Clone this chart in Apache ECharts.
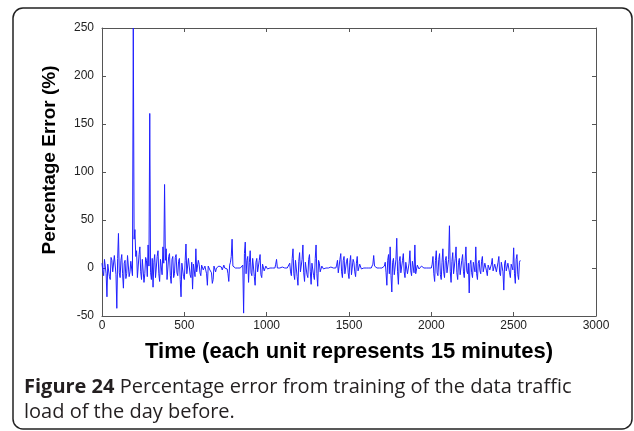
<!DOCTYPE html>
<html>
<head>
<meta charset="utf-8">
<script src="https://cdn.jsdelivr.net/npm/echarts@6/dist/echarts.min.js"></script>
<style>
html,body{margin:0;padding:0;background:#fff;}
#chart{width:634px;height:431px;}
</style>
</head>
<body>
<div id="chart"></div>
<script>
// ---- data ----
const xTicks = [0, 500, 1000, 1500, 2000, 2500, 3000];
const yTicks = [-50, 0, 50, 100, 150, 200, 250];
const sampleStep = 5; // time units between samples (t = 0, 5, 10, ...)
const errorValues = [
  5, -3, -8, 9, 10, -6, -30, 4, 6, -9, -12, 11, 8, -4, -5, 13, 12, -7, -42, 10,
  36, -5, -10, 8, 14, -6, -21, 5, 8, -11, -6, 13, 12, -9, -4, 7, 6, -8, 250, 30,
  40, 12, 18, -10, -8, 14, 22, -4, -12, 9, 10, -15, -6, 11, 8, -9, 24, 2, 161, -5,
  -12, 10, -20, 6, 14, -10, -8, 12, 18, -6, -14, 9, 10, -7, 22, 5, 87, 8, 20, -12,
  -10, 12, 15, -8, -16, 9, 12, -10, -6, 11, 14, -5, -8, 7, 10, -12, -30, 5, 6, -9,
  -12, 8, 25, -6, -5, 10, 8, -7, -10, 6, -22, 4, 6, -9, 20, -4, -6, 8, 4, -5,
  -8, 3, 3, -2, -4, 2, 2, -6, -18, 2, 1, -2, -3, -5, -16, -12, 2, 1, -4, 0,
  1, 0, 2, 0, 0, 1, -2, 0, 3, 0, 0, 1, -1, -6, -14, 3, 6, 12, 30, 2,
  0, 0, 0, 0, 0, 0, 1, 0, 0, 0, 0, 3, -47, 15, 27, -6, 8, 12, -15, 6,
  18, -5, -8, 10, 12, -9, -18, 6, 10, -4, -6, 8, 14, -7, -10, 4, 5, -3, -4, 2,
  3, -1, 0, 0, 0, 1, 1, 0, 0, 0, 0, 4, 9, 0, 0, 0, 0, 0, 0, 1,
  2, 0, 0, 0, 0, 0, 0, 2, 5, -4, -8, 10, 20, -6, -12, 8, 10, -9, -18, 7,
  16, -4, -6, 9, 24, -5, -14, 6, 8, -7, -10, 9, 14, -4, -17, 5, 6, -8, -12, 10,
  24, -6, -19, 8, 5, -4, -3, 2, 3, -1, 0, 0, 0, 0, 0, 0, 0, 0, 1, 0,
  0, 0, 0, 0, 0, 3, 8, -5, -6, 9, 15, -4, -10, 8, 12, -6, -4, 7, 10, -5,
  -11, 6, 13, -7, -8, 9, 6, -4, -9, 5, 12, -3, -5, 4, 3, -1, 0, 0, 0, 0,
  1, 0, 0, 0, 0, 0, 0, 0, 0, 4, 13, 2, 0, 0, 0, 0, 0, 0, 0, 0,
  0, 0, 0, 2, 6, -5, -18, 8, 14, -6, 22, -8, -25, 6, 10, -7, -8, 9, 31, -4,
  -17, 7, 12, -5, -6, 8, 15, -4, -10, 6, 8, -6, -5, 5, 18, -3, -8, 7, 6, -5,
  24, -6, -4, 3, 3, -1, 0, 1, 2, 0, 0, 0, -1, 0, 0, 0, 1, 0, 0, 0,
  0, 4, 12, -6, -14, 8, 18, -5, -8, 9, 15, -7, -12, 6, 20, -4, -10, 8, 12, -5,
  -6, 9, 44, -4, -15, 7, 16, -6, -8, 10, 22, -5, -12, 6, 10, -7, -5, 8, 14, -4,
  -10, 7, 22, -3, -6, 5, -26, 4, 8, -5, -10, 6, 6, -4, 22, -6, -12, 5, 8, -3,
  -6, 7, 12, -4, -4, 5, 6, -3, -8, 3, 4, -2, -3, 4, 10, -3, -5, 4, 3, -4,
  -6, 6, 12, -5, -8, 6, 5, -4, -23, 5, 8, -3, -4, 5, 6, -5, -10, 4, 3, -2,
  21, -6, -16, 9, 14, -7, -12, 6, 8
];
const xTitle = 'Time (each unit represents 15 minutes)';
const yTitle = 'Percentage Error (%)';
const captionBold = 'Figure 24';
const captionLine1 = ' Percentage error from training of the data traffic';
const captionLine2 = 'load of the day before.';

const seriesData = errorValues.map((v, i) => [i * sampleStep, v]);

const chart = echarts.init(document.getElementById('chart'), null, {renderer: 'canvas'});
const tickFont = {fontFamily: 'Liberation Sans', fontSize: 12, color: '#222'};
const axisLineStyle = {color: '#555', width: 1};
const plain = v => String(v);

chart.setOption({
  animation: false,
  backgroundColor: '#fff',
  grid: {left: 102, right: 38, top: 28, bottom: 115, show: false},
  xAxis: [{
    type: 'value', min: xTicks[0], max: xTicks[xTicks.length - 1], interval: 500,
    position: 'bottom',
    axisLine: {show: true, onZero: false, lineStyle: axisLineStyle},
    axisTick: {show: true, inside: true, length: 4, lineStyle: axisLineStyle},
    axisLabel: Object.assign({margin: 4, formatter: plain}, tickFont),
    splitLine: {show: false}
  }, {
    type: 'value', min: xTicks[0], max: xTicks[xTicks.length - 1], interval: 500,
    position: 'top',
    axisLine: {show: true, onZero: false, lineStyle: axisLineStyle},
    axisTick: {show: true, inside: true, length: 4, lineStyle: axisLineStyle},
    axisLabel: {show: false},
    splitLine: {show: false}
  }],
  yAxis: [{
    type: 'value', min: yTicks[0], max: yTicks[yTicks.length - 1], interval: 50,
    position: 'left',
    axisLine: {show: true, onZero: false, lineStyle: axisLineStyle},
    axisTick: {show: true, inside: true, length: 4, lineStyle: axisLineStyle},
    axisLabel: Object.assign({margin: 8, formatter: plain}, tickFont),
    splitLine: {show: false}
  }, {
    type: 'value', min: yTicks[0], max: yTicks[yTicks.length - 1], interval: 50,
    position: 'right',
    axisLine: {show: true, onZero: false, lineStyle: axisLineStyle},
    axisTick: {show: true, inside: true, length: 4, lineStyle: axisLineStyle},
    axisLabel: {show: false},
    splitLine: {show: false}
  }],
  series: [{
    type: 'line',
    data: seriesData,
    showSymbol: false,
    symbol: 'none',
    lineStyle: {color: '#2020ff', width: 1},
    xAxisIndex: 0, yAxisIndex: 0
  }],
  graphic: [
    {type: 'rect', shape: {x: 13, y: 8, width: 619, height: 421, r: 10},
     style: {fill: 'none', stroke: '#222', lineWidth: 1.5}, z: -1},
    {type: 'text', x: 349, y: 352,
     style: {text: xTitle, font: 'bold 22px "Liberation Sans"', fill: '#000', align: 'center', verticalAlign: 'middle'}},
    {type: 'text', x: 50, y: 160, rotation: Math.PI / 2,
     style: {text: yTitle, font: 'bold 19px "Liberation Sans"', fill: '#000', align: 'center', verticalAlign: 'middle'}},
    {type: 'text', x: 24, y: 387,
     style: {text: '{b|' + captionBold + '}{r|' + captionLine1 + '}',
       rich: {
         b: {font: 'bold 20px "Open Sans"', fill: '#231f20'},
         r: {font: '20px "Open Sans"', fill: '#231f20'}
       }, verticalAlign: 'middle'}},
    {type: 'text', x: 24, y: 412,
     style: {text: captionLine2, font: '20px "Open Sans"', fill: '#231f20', verticalAlign: 'middle'}}
  ]
});
</script>
</body>
</html>
